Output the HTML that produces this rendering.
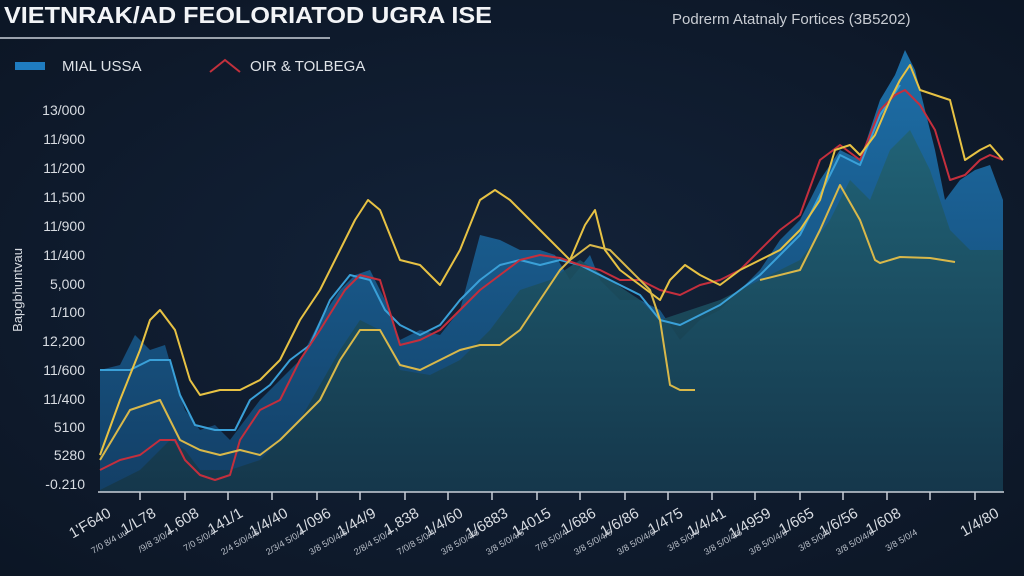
<!DOCTYPE html>
<html><head><meta charset="utf-8"><style>
html,body{margin:0;padding:0;background:#0e1827;}
svg{display:block}
text{font-family:"Liberation Sans",sans-serif;}
</style></head><body>
<svg width="1024" height="576" viewBox="0 0 1024 576" xmlns="http://www.w3.org/2000/svg">
<defs>
<radialGradient id="bg" cx="0.5" cy="0.5" r="0.8"><stop offset="0" stop-color="#13233a"/><stop offset="1" stop-color="#0b1422"/></radialGradient>
<linearGradient id="ba" x1="0" y1="0" x2="0" y2="1"><stop offset="0" stop-color="#1d6fa8"/><stop offset="1" stop-color="#133f66"/></linearGradient>
<linearGradient id="ta" x1="0" y1="0" x2="0" y2="1"><stop offset="0" stop-color="#216272"/><stop offset="1" stop-color="#153648"/></linearGradient>
</defs>
<rect width="1024" height="576" fill="url(#bg)"/>
<text x="4" y="23" fill="#f2f4f7" font-size="23" font-weight="bold" textLength="488" lengthAdjust="spacingAndGlyphs">VIETNRAK/AD FEOLORIATOD UGRA ISE</text>
<line x1="0" y1="38" x2="330" y2="38" stroke="#c9cfd8" stroke-width="1.5"/>
<text x="672" y="24" fill="#c8ccd3" font-size="15">Podrerm Atatnaly Fortices (3B5202)</text>
<rect x="15" y="62" width="30" height="8" fill="#1f7cc0"/>
<text x="62" y="71" fill="#dfe3e8" font-size="15">MIAL USSA</text>
<path d="M210 72 L225 60 L240 72" stroke="#c2303c" fill="none" stroke-width="2"/>
<text x="250" y="71" fill="#dfe3e8" font-size="15">OIR &amp; TOLBEGA</text>
<g fill="#d8dce2" font-size="14" text-anchor="end">
<text x="85" y="115">13/000</text><text x="85" y="144">11/900</text><text x="85" y="173">11/200</text>
<text x="85" y="202">11,500</text><text x="85" y="231">11/900</text><text x="85" y="260">11/400</text>
<text x="85" y="289">5,000</text><text x="85" y="317">1/100</text><text x="85" y="346">12,200</text>
<text x="85" y="375">11/600</text><text x="85" y="404">11/400</text><text x="85" y="432">5100</text>
<text x="85" y="460">5280</text><text x="85" y="489">-0.210</text>
</g>
<text transform="translate(22,290) rotate(-90)" fill="#d8dce2" font-size="13" text-anchor="middle">Bapgbhuntvau</text>
<path d="M100 370 L120 365 L135 335 L150 350 L165 345 L175 380 L185 410 L200 430 L215 425 L230 440 L245 420 L260 400 L280 380 L300 360 L320 320 L340 290 L355 275 L370 270 L385 300 L400 340 L420 330 L440 335 L460 310 L480 235 L500 240 L520 250 L540 250 L555 255 L570 280 L590 255 L600 280 L620 300 L640 300 L660 310 L680 340 L700 320 L720 310 L740 290 L760 270 L780 240 L800 220 L820 180 L840 150 L860 160 L880 100 L895 75 L905 50 L915 70 L925 110 L935 150 L945 200 L960 180 L975 170 L990 165 L1003 200 L1003 492 L100 492 Z" fill="url(#ba)"/>
<path d="M100 490 L140 470 L170 440 L185 450 L200 470 L230 470 L260 460 L300 420 L340 350 L360 320 L380 330 L400 370 L430 375 L460 360 L490 330 L520 290 L550 280 L580 260 L610 280 L640 300 L660 320 L690 310 L720 300 L760 280 L800 260 L830 220 L850 180 L870 200 L890 150 L910 130 L930 170 L950 230 L970 250 L1003 250 L1003 492 L100 492 Z" fill="url(#ta)" opacity="0.9"/>
<g fill="none" stroke-width="2" stroke-linejoin="round">
<path stroke="#3aa0d8" d="M100 370 L130 370 L150 360 L170 360 L180 395 L195 425 L215 430 L235 430 L250 400 L270 385 L290 360 L310 345 L330 300 L350 275 L370 280 L385 310 L400 325 L420 335 L440 325 L460 300 L480 280 L500 265 L520 260 L540 265 L560 260 L580 265 L600 275 L620 285 L640 295 L660 320 L680 325 L700 315 L720 305 L740 290 L760 275 L780 255 L800 235 L820 195 L840 155 L860 165 L880 115 L900 85"/>
<path stroke="#c42f3d" d="M100 470 L120 460 L140 455 L160 440 L175 440 L185 460 L200 475 L215 480 L230 475 L240 440 L260 410 L280 400 L300 360 L320 330 L345 290 L360 275 L380 280 L400 345 L420 340 L440 330 L460 310 L480 290 L500 275 L520 260 L540 255 L560 258 L580 265 L600 270 L620 280 L640 280 L660 290 L680 295 L700 285 L720 280 L740 270 L760 250 L780 230 L800 215 L820 160 L840 145 L860 160 L880 110 L895 95 L905 90 L920 105 L935 130 L950 180 L965 175 L980 160 L990 155 L1003 160"/>
<path stroke="#e7c244" d="M100 455 L120 400 L140 350 L150 320 L160 310 L175 330 L190 380 L200 395 L220 390 L240 390 L260 380 L280 360 L300 320 L320 290 L340 250 L355 220 L368 200 L380 210 L400 260 L420 265 L440 285 L460 250 L480 200 L495 190 L510 200 L530 220 L550 240 L570 260 L585 225 L595 210 L605 250 L620 270 L640 285 L660 300 L670 280 L685 265 L700 275 L720 285 L740 270 L760 260 L780 250 L800 230 L820 200 L835 150 L850 145 L860 155 L875 135 L890 100 L900 80 L910 65 L920 90 L935 95 L950 100 L965 160 L980 150 L990 145 L1003 160"/>
<path stroke="#d9b84a" d="M100 460 L130 410 L160 400 L180 440 L200 450 L220 455 L240 450 L260 455 L280 440 L300 420 L320 400 L340 360 L360 330 L380 330 L400 365 L420 370 L440 360 L460 350 L480 345 L500 345 L520 330 L540 300 L560 270 L570 260 L590 245 L610 250 L630 270 L650 290 L660 320 L670 385 L680 390 L695 390"/>
<path stroke="#d9b84a" d="M760 280 L800 270 L820 230 L840 185 L860 220 L875 260 L880 263 L900 257 L930 258 L955 262"/>
</g>
<line x1="98" y1="492" x2="1004" y2="492" stroke="#c9cfd8" stroke-width="1.5"/>
<g stroke="#c9cfd8" stroke-width="1.5">
<line x1="140" y1="492" x2="140" y2="500"/><line x1="185" y1="492" x2="185" y2="500"/><line x1="228" y1="492" x2="228" y2="500"/><line x1="272" y1="492" x2="272" y2="500"/><line x1="317" y1="492" x2="317" y2="500"/><line x1="360" y1="492" x2="360" y2="500"/><line x1="405" y1="492" x2="405" y2="500"/><line x1="448" y1="492" x2="448" y2="500"/><line x1="492" y1="492" x2="492" y2="500"/><line x1="537" y1="492" x2="537" y2="500"/><line x1="580" y1="492" x2="580" y2="500"/><line x1="625" y1="492" x2="625" y2="500"/><line x1="668" y1="492" x2="668" y2="500"/><line x1="712" y1="492" x2="712" y2="500"/><line x1="755" y1="492" x2="755" y2="500"/><line x1="800" y1="492" x2="800" y2="500"/><line x1="843" y1="492" x2="843" y2="500"/><line x1="887" y1="492" x2="887" y2="500"/><line x1="930" y1="492" x2="930" y2="500"/><line x1="975" y1="492" x2="975" y2="500"/>
</g>
<g fill="#d8dce2" font-size="15" text-anchor="end">
<text transform="translate(112,516) rotate(-30)">1'F640</text>
<text transform="translate(157,516) rotate(-30)">1/L78</text>
<text transform="translate(200,516) rotate(-30)">1,608</text>
<text transform="translate(244,516) rotate(-30)">141/1</text>
<text transform="translate(289,516) rotate(-30)">1/4/40</text>
<text transform="translate(332,516) rotate(-30)">1/096</text>
<text transform="translate(377,516) rotate(-30)">1/44/9</text>
<text transform="translate(420,516) rotate(-30)">1,838</text>
<text transform="translate(464,516) rotate(-30)">1/4/60</text>
<text transform="translate(509,516) rotate(-30)">1/6883</text>
<text transform="translate(552,516) rotate(-30)">14015</text>
<text transform="translate(597,516) rotate(-30)">1/686</text>
<text transform="translate(640,516) rotate(-30)">1/6/86</text>
<text transform="translate(684,516) rotate(-30)">1/475</text>
<text transform="translate(727,516) rotate(-30)">1/4/41</text>
<text transform="translate(772,516) rotate(-30)">1/4959</text>
<text transform="translate(815,516) rotate(-30)">1/665</text>
<text transform="translate(859,516) rotate(-30)">1/6/56</text>
<text transform="translate(902,516) rotate(-30)">1/608</text>
<text transform="translate(1000,516) rotate(-30)">1/4/80</text>
</g>
<g fill="#b8bec8" font-size="9" text-anchor="end">
<text transform="translate(128,534) rotate(-30)">7/0 8/4 uu</text>
<text transform="translate(173,534) rotate(-30)">/9/8 3/0/4</text>
<text transform="translate(216,534) rotate(-30)">7/0 5/0/4</text>
<text transform="translate(260,534) rotate(-30)">2/4 5/0/4/6</text>
<text transform="translate(305,534) rotate(-30)">2/3/4 5/0/4</text>
<text transform="translate(348,534) rotate(-30)">3/8 5/0/4/6</text>
<text transform="translate(393,534) rotate(-30)">2/8/4 5/0/4</text>
<text transform="translate(436,534) rotate(-30)">7/0/8 5/0/4</text>
<text transform="translate(480,534) rotate(-30)">3/8 5/0/4/6</text>
<text transform="translate(525,534) rotate(-30)">3/8 5/0/4/6</text>
<text transform="translate(568,534) rotate(-30)">7/8 5/0/4</text>
<text transform="translate(613,534) rotate(-30)">3/8 5/0/4/6</text>
<text transform="translate(656,534) rotate(-30)">3/8 5/0/4/6</text>
<text transform="translate(700,534) rotate(-30)">3/8 5/0/4</text>
<text transform="translate(743,534) rotate(-30)">3/8 5/0/4/6</text>
<text transform="translate(788,534) rotate(-30)">3/8 5/0/4/6</text>
<text transform="translate(831,534) rotate(-30)">3/8 5/0/4</text>
<text transform="translate(875,534) rotate(-30)">3/8 5/0/4/6</text>
<text transform="translate(918,534) rotate(-30)">3/8 5/0/4</text>
</g>
</svg>
</body></html>
